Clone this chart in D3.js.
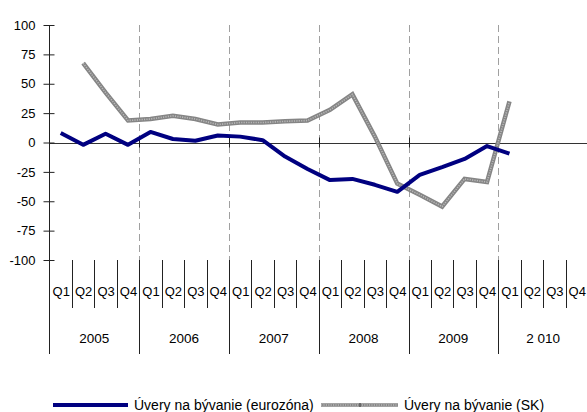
<!DOCTYPE html>
<html>
<head>
<meta charset="utf-8">
<script src="https://cdn.jsdelivr.net/npm/d3@7/dist/d3.min.js"></script>
<style>
html,body{margin:0;padding:0;background:#fff;}
svg{display:block;font-family:"Liberation Sans",Arial,sans-serif;}
</style>
</head>
<body>
<svg id="chart" width="587" height="412"></svg>
<script>
const years = ["2005","2006","2007","2008","2009","2 010"];
const quarters = ["Q1","Q2","Q3","Q4"];
const yTicks = [100,75,50,25,0,-25,-50,-75,-100];
const seriesNames = ["Úvery na bývanie (eurozóna)","Úvery na bývanie (SK)"];
const euroValues = [8,-2,7.5,-2, 9,3,1.5,6, 5,2,-12,-22.5, -32,-31,-36,-42, -27.5,-21,-14,-3, -9.5,null,null,null];
const skValues = [null,67.5,42.5,18.7, 20,22.7,20,15.3, 17,17,18,18.7, 27.8,41,5,-35, -44.5,-54.5,-31,-33.7, 35,null,null,null];

(function(){
const cats = [];
years.forEach(yr => quarters.forEach(q => cats.push(yr + "|" + q)));

const svg = d3.select("#chart");
const pLeft = 49.5, pRight = 588, pTop = 25, pBottom = 260;
const x = d3.scaleBand().domain(cats).range([pLeft, pRight]);
const y = d3.scaleLinear().domain([-100,100]).range([pBottom, pTop]);
const yearX = d3.scaleBand().domain(years).range([pLeft, pRight]);

// dashed year gridlines
svg.append("g").selectAll("line").data(years.slice(1)).join("line")
  .attr("x1", d => Math.round(yearX(d)) + 0.5).attr("x2", d => Math.round(yearX(d)) + 0.5)
  .attr("y1", pTop).attr("y2", pBottom)
  .attr("stroke", "#a0a0a0").attr("stroke-width", 1).attr("stroke-dasharray", "7,4");

// zero line
svg.append("line").attr("x1", pLeft).attr("x2", pRight)
  .attr("y1", Math.round(y(0)) + 0.5).attr("y2", Math.round(y(0)) + 0.5)
  .attr("stroke", "#333").attr("stroke-width", 1);
svg.append("g").selectAll("line").data(years.slice(1)).join("line")
  .attr("x1", d => Math.round(yearX(d)) + 0.5).attr("x2", d => Math.round(yearX(d)) + 0.5)
  .attr("y1", y(0) - 5).attr("y2", y(0) + 5)
  .attr("stroke", "#222").attr("stroke-width", 1);

// y axis
const yAxis = d3.axisLeft(y).tickValues(yTicks).tickSize(0).tickPadding(14)
  .tickFormat(d => String(d));
const gy = svg.append("g").attr("transform", `translate(${pLeft},0)`).call(yAxis);
gy.select(".domain").remove();
gy.selectAll("text").attr("font-size", "13px").attr("fill", "#000")
  .attr("font-family", "'Liberation Sans',Arial,sans-serif");
gy.selectAll(".tick").append("line").attr("x1", -6).attr("x2", 5)
  .attr("stroke", "#222").attr("stroke-width", 1);
svg.append("line").attr("x1", pLeft).attr("x2", pLeft).attr("y1", pTop).attr("y2", 354)
  .attr("stroke", "#222").attr("stroke-width", 1);

// category axis: quarter separators
svg.append("g").selectAll("line").data(cats.slice(1)).join("line")
  .attr("x1", d => Math.round(x(d)) + 0.5).attr("x2", d => Math.round(x(d)) + 0.5)
  .attr("y1", pBottom).attr("y2", d => d.endsWith("Q1") ? 354 : 308)
  .attr("stroke", "#222").attr("stroke-width", 1);
svg.append("g").selectAll("text").data(cats).join("text")
  .attr("x", d => x(d) + x.bandwidth() / 2 + 0.5).attr("y", 296)
  .attr("text-anchor", "middle").attr("font-size", "13px").attr("fill", "#000")
  .text(d => d.split("|")[1]);
svg.append("g").selectAll("text").data(years).join("text")
  .attr("x", d => yearX(d) + yearX.bandwidth() / 2).attr("y", 343)
  .attr("text-anchor", "middle").attr("font-size", "13.5px").attr("fill", "#000")
  .text(d => d);

// lines
const lineGen = d3.line()
  .defined(d => d.v !== null)
  .x(d => x(d.c) + x.bandwidth() / 2)
  .y(d => y(d.v));
const euroData = cats.map((c, i) => ({c, v: euroValues[i]}));
const skData = cats.map((c, i) => ({c, v: skValues[i]}));

svg.append("path").datum(skData).attr("d", lineGen)
  .attr("fill", "none").attr("stroke", "#858585").attr("stroke-width", 4.5)
  .attr("stroke-linejoin", "miter");
svg.append("path").datum(skData).attr("d", lineGen)
  .attr("fill", "none").attr("stroke", "#b8b8b8").attr("stroke-width", 1.6)
  .attr("stroke-dasharray", "1.2,1.2");

svg.append("path").datum(euroData).attr("d", lineGen)
  .attr("fill", "none").attr("stroke", "#000080").attr("stroke-width", 4)
  .attr("stroke-linejoin", "round");

// legend
const lg = svg.append("g");
const ly = 405;
lg.append("line").attr("x1", 53).attr("x2", 128).attr("y1", ly).attr("y2", ly)
  .attr("stroke", "#000080").attr("stroke-width", 4);
lg.append("text").attr("x", 134).attr("y", ly + 5).attr("font-size", "14px").attr("fill", "#000")
  .text(seriesNames[0]);
lg.append("line").attr("x1", 321).attr("x2", 398).attr("y1", ly).attr("y2", ly)
  .attr("stroke", "#858585").attr("stroke-width", 3.5);
lg.append("line").attr("x1", 321).attr("x2", 398).attr("y1", ly).attr("y2", ly)
  .attr("stroke", "#b8b8b8").attr("stroke-width", 1.4).attr("stroke-dasharray", "1.2,1.2");
lg.append("line").attr("x1", 360).attr("x2", 360).attr("y1", ly - 2).attr("y2", ly + 2)
  .attr("stroke", "#333").attr("stroke-width", 1);
lg.append("text").attr("x", 404).attr("y", ly + 5).attr("font-size", "14px").attr("fill", "#000")
  .text(seriesNames[1]);
})();
</script>
</body>
</html>
